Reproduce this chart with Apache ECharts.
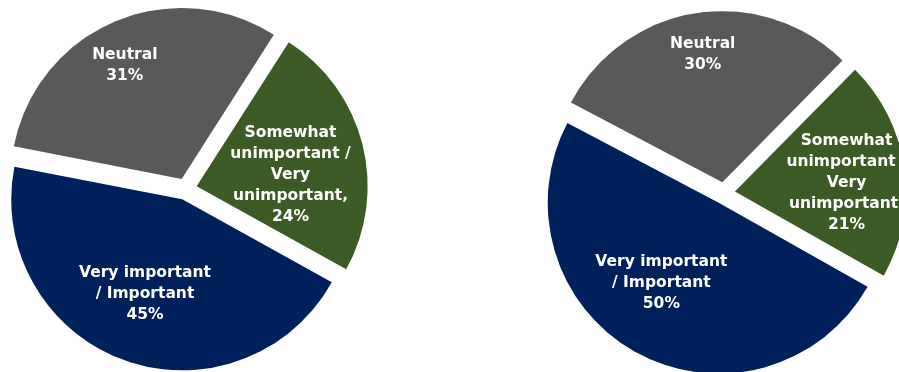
<!DOCTYPE html>
<html>
<head>
<meta charset="utf-8">
<script src="https://cdn.jsdelivr.net/npm/echarts@6/dist/echarts.min.js"></script>
<style>
html,body{margin:0;padding:0;background:#fff;}
#chart{width:899px;height:372px;}
</style>
</head>
<body>
<div id="chart"></div>
<script>
// Data
const categories = ["Very important / Important", "Neutral", "Somewhat unimportant / Very unimportant"];
const labelLines = ["Very important\n/ Important", "Neutral", "Somewhat\nunimportant /\nVery\nunimportant,"];
const valuesLeft = [45, 31, 24];
const valuesRight = [50, 30, 21];

// Styles
const colors = ["#00205b", "#58595b", "#3c5a24"];
const labelShiftLeft = [[-7, 11], [-22, -32], [8, 10]];
const labelShiftRight = [[-15, 3], [-6, -40], [24, 4]];

function buildData(values) {
  return categories.map((c, i) => ({
    name: c,
    value: values[i],
    selected: true,
    itemStyle: { color: colors[i] }
  }));
}

function makeSeries(values, center, startAngle, shifts) {
  return {
    type: 'pie',
    center: center,
    radius: 171,
    startAngle: startAngle,
    clockwise: true,
    selectedMode: 'multiple',
    selectedOffset: 11,
    avoidLabelOverlap: false,
    animation: false,
    silent: true,
    label: {
      show: true,
      position: 'inside',
      color: '#ffffff',
      fontFamily: 'DejaVu Sans',
      fontWeight: 'bold',
      fontSize: 15.5,
      lineHeight: 21,
      align: 'center',
      formatter: p => labelLines[p.dataIndex] + '\n' + p.value + '%'
    },
    labelLine: { show: false },
    itemStyle: { borderWidth: 0 },
    select: { itemStyle: { borderWidth: 0 } },
    labelLayout: p => ({ dx: shifts[p.dataIndex][0], dy: shifts[p.dataIndex][1] }),
    data: buildData(values)
  };
}

const chart = echarts.init(document.getElementById('chart'), null, { renderer: 'canvas' });
chart.setOption({
  animation: false,
  backgroundColor: '#ffffff',
  series: [
    makeSeries(valuesLeft, [186, 189], 331, labelShiftLeft),
    makeSeries(valuesRight, [724, 193], 330.5, labelShiftRight)
  ]
});
</script>
</body>
</html>
